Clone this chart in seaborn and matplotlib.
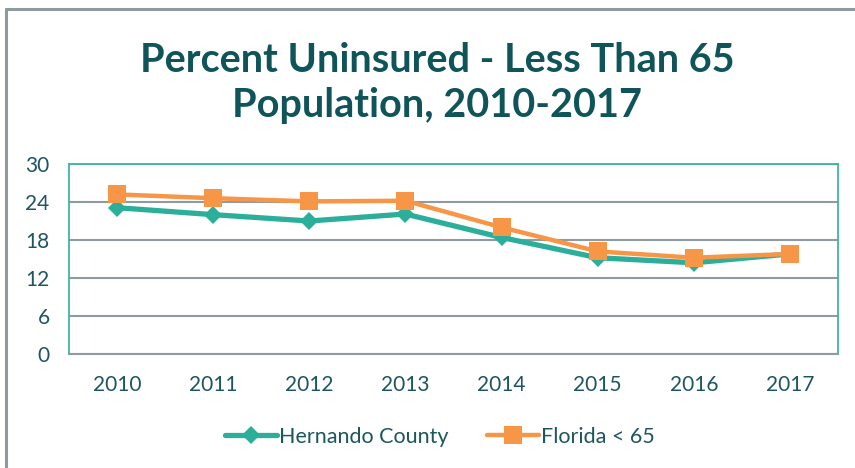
import pandas as pd
import matplotlib.pyplot as plt
import seaborn as sns
from matplotlib.lines import Line2D

years = [2010, 2011, 2012, 2013, 2014, 2015, 2016, 2017]
hernando = [23.1, 22.0, 21.0, 22.1, 18.4, 15.2, 14.4, 15.8]
florida = [25.2, 24.6, 24.1, 24.2, 20.0, 16.2, 15.2, 15.8]
yticks = [0, 6, 12, 18, 24, 30]

teal = '#2BAF9B'
orange = '#F79646'
text_col = '#1D5660'
title_col = '#0E5458'
grid_col = '#8E9CA1'

sns.set_style('white')
plt.rcParams['font.family'] = ['Lato', 'DejaVu Sans']

fig = plt.figure(figsize=(8.55, 4.68), dpi=100)
ax = fig.add_axes([69 / 855, 1 - 354 / 468, (838 - 69) / 855, (354 - 164) / 468])

df = pd.DataFrame({'year': years, 'Hernando County': hernando, 'Florida < 65': florida})

sns.lineplot(data=df, x='year', y='Hernando County', ax=ax, color=teal, lw=3.8,
             marker='D', markersize=9, markeredgewidth=0, zorder=3)
sns.lineplot(data=df, x='year', y='Florida < 65', ax=ax, color=orange, lw=3.2,
             marker='s', markersize=13, markeredgewidth=0, zorder=4)

ax.set_xlim(years[0] - 0.5, years[-1] + 0.5)
ax.set_ylim(0, 30)
ax.set_xticks(years)
ax.set_xticklabels([str(y) for y in years])
ax.set_yticks(yticks)
ax.set_xlabel('')
ax.set_ylabel('')
ax.tick_params(axis='both', length=0, labelsize=15, labelcolor=text_col)
ax.tick_params(axis='x', pad=15)
ax.tick_params(axis='y', pad=14)
ax.grid(axis='y', color=grid_col, lw=1.5)
ax.set_axisbelow(True)
for side in ['left', 'top', 'right']:
    ax.spines[side].set_color('#3DB5A5')
    ax.spines[side].set_linewidth(1.3)
ax.spines['bottom'].set_color(grid_col)
ax.spines['bottom'].set_linewidth(1.5)

fig.text(437 / 855, 1 - 60 / 468, 'Percent Uninsured - Less Than 65', ha='center', va='center',
         fontsize=28.5, fontweight='bold', color=title_col)
fig.text(437 / 855, 1 - 106 / 468, 'Population, 2010-2017', ha='center', va='center',
         fontsize=28.5, fontweight='bold', color=title_col)

handles = [Line2D([], [], color=teal, lw=3.8, marker='D', markersize=9, markeredgewidth=0),
           Line2D([], [], color=orange, lw=3.2, marker='s', markersize=13, markeredgewidth=0)]
fig.legend(handles, ['Hernando County', 'Florida < 65'], loc='center', ncol=2,
           bbox_to_anchor=(440 / 855, 1 - 437 / 468), frameon=False, fontsize=15.5,
           labelcolor=text_col, handlelength=2.4, handletextpad=0.1, columnspacing=1.8)

# outer chart border (top and left edges visible)
fig.add_artist(Line2D([6 / 855, 1], [1 - 9 / 468] * 2, color='#8E9A9E', lw=2.2))
fig.add_artist(Line2D([6 / 855] * 2, [0, 1 - 9 / 468], color='#8E9A9E', lw=2.2))

fig.savefig('out.png', dpi=100)
